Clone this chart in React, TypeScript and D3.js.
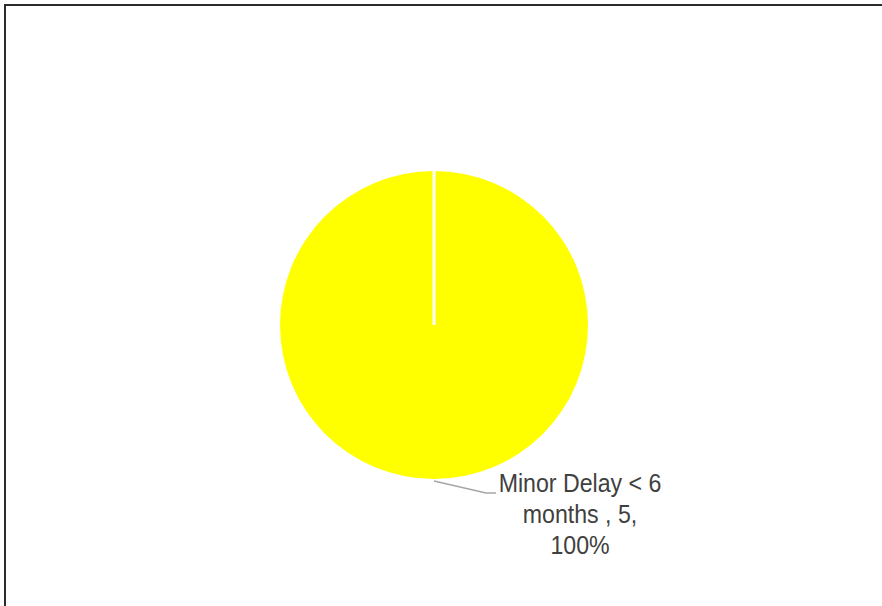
import React from "react";
import * as d3 from "d3";

const categories = ["Minor Delay < 6 months"];
const values = [5];
const colors = ["#FFFF00"];
const labelLines = ["Minor Delay < 6", "months , 5,", "100%"];

const W = 882;
const H = 606;

export default function App() {
  const cx = 434;
  const cy = 325;
  const r = 154;
  const pie = d3.pie<number>().sort(null).value((d) => d)(values);
  const arc = d3.arc<d3.PieArcDatum<number>>().innerRadius(0).outerRadius(r);
  const total = d3.sum(values);
  const tx = 580;

  return (
    <svg
      width={W}
      height={H}
      style={{ position: "absolute", left: 0, top: 0, background: "#fff" }}
    >
      <rect x={5} y={5} width={W + 10} height={H + 10} fill="#fff" stroke="#2b2b2b" strokeWidth={2} />
      <g transform={`translate(${cx},${cy})`}>
        {pie.map((p, i) => {
          const sx = Math.sin(p.startAngle) * r;
          const sy = -Math.cos(p.startAngle) * r;
          return (
            <g key={i}>
              <path d={arc(p) || ""} fill={colors[i]} />
              <line x1={0} y1={0} x2={sx} y2={sy} stroke="#fff" strokeWidth={3} />
            </g>
          );
        })}
      </g>
      {pie.map((p, i) => {
        const x0 = cx;
        const y0 = cy + r + 2;
        const pct = Math.round((p.value / total) * 100);
        const lines = [labelLines[0], labelLines[1], pct + "%"];
        return (
          <g key={"l" + i}>
            <polyline
              points={`${x0},${y0} ${x0 + 52},${y0 + 12} ${x0 + 62},${y0 + 12}`}
              fill="none"
              stroke="#a6a6a6"
              strokeWidth={1.5}
            />
            <g transform={`translate(${tx},0) scale(0.89,1)`}>
              <text
                x={0}
                y={492}
                textAnchor="middle"
                fontFamily="'Liberation Sans', Arial, sans-serif"
                fontSize={26}
                fill="#404040"
              >
                {lines.map((t, j) => (
                  <tspan key={j} x={0} dy={j === 0 ? 0 : 31}>
                    {t}
                  </tspan>
                ))}
              </text>
            </g>
          </g>
        );
      })}
    </svg>
  );
}
